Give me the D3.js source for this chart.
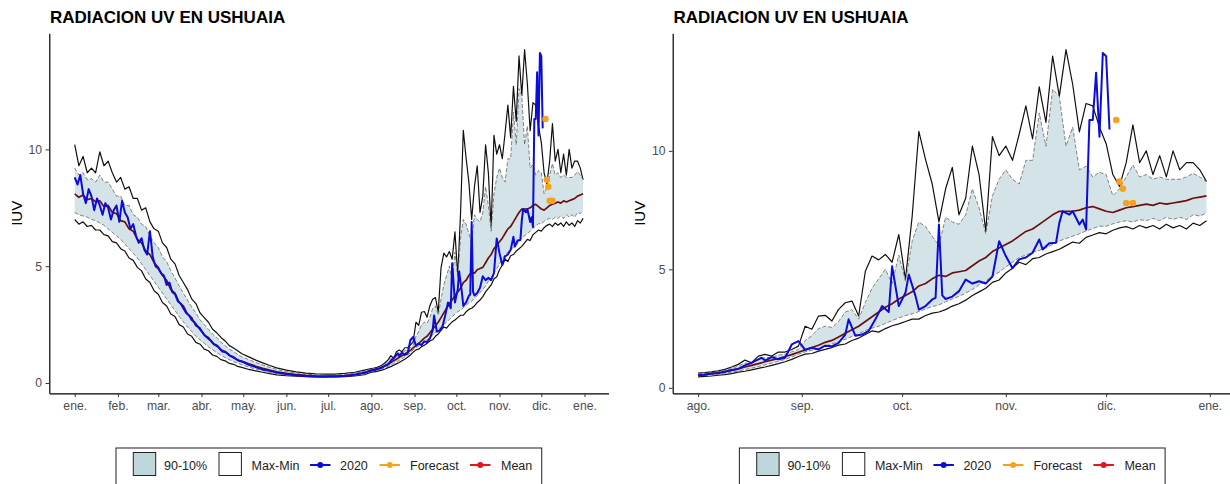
<!DOCTYPE html>
<html>
<head>
<meta charset="utf-8">
<script src="https://cdn.jsdelivr.net/npm/d3@7"></script>
<style>
  body { margin: 0; background: #fff; }
  text { font-family: "Liberation Sans", Arial, sans-serif; }
</style>
</head>
<body>
<div id="my_dataviz"></div>
<script>
// days counted from 1 Jan 2020 (day 213 = 1 Aug)
var bandDays = [0, 3, 6, 9, 12, 15, 18, 21, 24, 27, 30, 33, 36, 39, 42, 45, 48, 51, 54, 57, 60, 63, 66, 69, 72, 75, 78, 81, 84, 87, 90, 93, 96, 99, 102, 105, 108, 111, 114, 117, 120,
    125, 130, 135, 140, 145, 152, 159, 166, 173, 180, 187, 194, 201, 208,
    213, 215, 217, 219, 221, 223, 225, 227, 229, 231, 233, 235, 237, 239, 241, 243, 245, 247, 249, 251,
    253, 255, 257, 259, 261, 263, 265, 267, 269, 271, 273, 275, 277, 279, 281, 283, 285, 287, 289, 291,
    293, 295, 297, 299, 301, 303, 305, 307, 309, 311, 313, 315, 317, 319, 321, 323, 325, 327, 329, 331,
    333, 335, 337, 339, 341, 343, 345, 347, 349, 351, 353, 355, 357, 359, 361, 363, 365];

var maxUV = [10.2, 9.3, 9.7, 9.0, 9.2, 9.0, 9.9, 9.3, 9.5, 9.0, 8.6, 8.8, 8.3, 8.4, 7.9, 7.9, 7.4, 7.5, 6.9, 6.6, 6.5, 6.0, 5.8, 5.3, 5.1, 4.6, 4.3, 4.0, 3.6, 3.4, 3.0, 2.8, 2.6, 2.3, 2.15, 1.95, 1.8, 1.6, 1.5, 1.38, 1.25,
    1.12, 0.98, 0.86, 0.75, 0.65, 0.55, 0.48, 0.42, 0.39, 0.38, 0.38, 0.41, 0.46, 0.55,
    0.62, 0.64, 0.67, 0.72, 0.78, 0.88, 0.99, 1.17, 1.06, 1.34, 1.41, 1.34, 1.51, 1.51, 1.62, 1.76, 2.6, 2.47, 3.03, 3.06,
    2.82, 3.31, 3.59, 3.66, 3.03, 4.92, 5.56, 5.4, 5.63, 5.3, 6.47, 4.57, 7.24, 10.82, 9.63, 8.6, 7.0, 8.4, 9.3, 7.3,
    8.0, 10.2, 9.0, 6.6, 10.6, 9.8, 10.2, 9.6, 10.7, 11.9, 10.5, 12.7, 11.2, 14.0, 12.3, 14.27, 12.8, 10.8, 12.0, 11.9,
    11.0, 10.3, 9.0, 8.5, 9.5, 11.1, 9.5, 10.0, 9.0, 9.8, 8.9, 10.0, 9.2, 9.5, 9.5, 9.2, 8.7];

var p90UV = [9.2, 8.9, 9.0, 8.7, 8.75, 8.6, 8.9, 8.6, 8.6, 8.3, 8.0, 8.0, 7.6, 7.6, 7.2, 7.1, 6.8, 6.7, 6.3, 6.0, 5.8, 5.4, 5.2, 4.8, 4.5, 4.15, 3.85, 3.55, 3.25, 3.0, 2.7, 2.5, 2.3, 2.1, 1.95, 1.75, 1.6, 1.45, 1.35, 1.22, 1.12,
    1.0, 0.88, 0.77, 0.67, 0.58, 0.49, 0.43, 0.38, 0.35, 0.34, 0.34, 0.37, 0.42, 0.5,
    0.6, 0.62, 0.64, 0.68, 0.74, 0.82, 0.92, 1.05, 1.02, 1.2, 1.28, 1.28, 1.38, 1.42, 1.52, 1.62, 2.0, 2.2, 2.5, 2.6,
    2.55, 2.8, 3.2, 3.3, 2.9, 3.6, 4.2, 4.6, 5.0, 4.4, 5.6, 4.5, 6.2, 7.0, 6.8, 6.4, 6.0, 7.2, 7.0, 6.9,
    7.3, 8.4, 7.6, 6.5, 8.1, 8.8, 9.2, 8.8, 8.6, 9.6, 9.6, 11.6, 10.2, 12.6, 12.3, 10.2, 11.0, 9.2, 9.35, 8.9,
    9.1, 9.0, 8.1, 8.4, 8.9, 9.4, 8.9, 9.0, 8.8, 8.9, 8.8, 8.8, 8.8, 8.9, 9.05, 8.9, 8.7];

var meanUV = [8.1, 7.95, 8.05, 7.85, 7.9, 7.75, 7.8, 7.55, 7.6, 7.3, 7.25, 6.95, 6.9, 6.6, 6.5, 6.15, 6.0, 5.65, 5.5, 5.15, 4.95, 4.6, 4.4, 4.0, 3.85, 3.45, 3.3, 2.95, 2.8, 2.45, 2.35, 2.05, 1.95, 1.7, 1.62, 1.42, 1.35, 1.18, 1.12, 0.98, 0.93,
    0.82, 0.72, 0.63, 0.55, 0.48, 0.41, 0.36, 0.33, 0.31, 0.3, 0.3, 0.32, 0.36, 0.44,
    0.55, 0.57, 0.6, 0.64, 0.68, 0.74, 0.8, 0.88, 0.95, 1.02, 1.1, 1.17, 1.24, 1.32, 1.4, 1.5, 1.6, 1.7, 1.8, 1.92,
    2.0, 2.15, 2.3, 2.45, 2.6, 2.8, 3.0, 3.2, 3.4, 3.55, 3.75, 3.9, 4.05, 4.3, 4.4, 4.6, 4.75, 4.7, 4.85, 4.9,
    4.95, 5.15, 5.35, 5.5, 5.75, 5.9, 6.05, 6.2, 6.4, 6.6, 6.7, 6.9, 7.1, 7.3, 7.45, 7.45, 7.45, 7.5, 7.6, 7.65,
    7.55, 7.45, 7.4, 7.5, 7.6, 7.65, 7.7, 7.75, 7.7, 7.8, 7.75, 7.8, 7.85, 7.9, 8.0, 8.05, 8.1];

var p10UV = [7.3, 7.2, 7.15, 7.1, 7.0, 6.95, 6.85, 6.75, 6.6, 6.45, 6.3, 6.15, 5.95, 5.75, 5.55, 5.35, 5.1, 4.85, 4.6, 4.35, 4.1, 3.85, 3.6, 3.35, 3.1, 2.85, 2.62, 2.4, 2.2, 2.0, 1.85, 1.7, 1.55, 1.42, 1.3, 1.19, 1.09, 1.0, 0.92, 0.85, 0.78,
    0.68, 0.6, 0.53, 0.46, 0.41, 0.35, 0.31, 0.29, 0.28, 0.28, 0.28, 0.29, 0.32, 0.38,
    0.5, 0.52, 0.55, 0.58, 0.62, 0.66, 0.72, 0.77, 0.83, 0.9, 0.97, 1.04, 1.12, 1.2, 1.3, 1.42, 1.52, 1.58, 1.68, 1.76,
    1.85, 1.96, 2.05, 2.17, 2.28, 2.42, 2.52, 2.6, 2.72, 2.84, 2.95, 3.05, 3.12, 3.22, 3.33, 3.43, 3.5, 3.63, 3.75, 3.86,
    4.0, 4.15, 4.35, 4.5, 4.72, 4.88, 5.1, 5.3, 5.5, 5.6, 5.72, 5.8, 5.9, 6.05, 6.2, 6.3, 6.4, 6.5, 6.62, 6.72,
    6.82, 6.82, 6.92, 7.0, 7.05, 7.0, 7.1, 7.05, 7.15, 7.05, 7.2, 7.1, 7.2, 7.1, 7.3, 7.25, 7.38];

var minUV = [7.0, 6.8, 6.9, 6.7, 6.75, 6.55, 6.55, 6.35, 6.3, 6.05, 6.0, 5.75, 5.65, 5.35, 5.25, 4.95, 4.8, 4.45, 4.3, 3.95, 3.8, 3.45, 3.3, 2.95, 2.85, 2.5, 2.4, 2.1, 2.0, 1.74, 1.66, 1.45, 1.38, 1.2, 1.14, 1.0, 0.95, 0.84, 0.8, 0.71, 0.67,
    0.58, 0.52, 0.46, 0.4, 0.35, 0.31, 0.29, 0.27, 0.26, 0.26, 0.26, 0.27, 0.3, 0.36,
    0.46, 0.48, 0.5, 0.53, 0.56, 0.6, 0.66, 0.7, 0.76, 0.82, 0.88, 0.95, 1.02, 1.1, 1.2, 1.32, 1.42, 1.45, 1.55, 1.62,
    1.7, 1.8, 1.85, 2.0, 2.1, 2.25, 2.4, 2.35, 2.5, 2.62, 2.7, 2.8, 2.9, 2.9, 3.05, 3.15, 3.2, 3.3, 3.45, 3.55,
    3.7, 3.9, 4.05, 4.2, 4.45, 4.55, 4.85, 5.05, 5.3, 5.2, 5.45, 5.5, 5.65, 5.75, 5.85, 6.0, 6.15, 6.1, 6.35, 6.45,
    6.55, 6.5, 6.65, 6.75, 6.8, 6.7, 6.85, 6.75, 6.85, 6.7, 6.9, 6.75, 6.85, 6.7, 6.95, 6.85, 7.05];

// observed 2020
var obsDays = [0, 2, 4, 6, 8, 10, 12, 14, 16, 18, 20, 22, 24, 26, 28, 30, 32, 34, 36, 38, 40, 42, 44, 46, 48, 50, 52, 54, 56, 58,
    60, 62, 64, 66, 68, 70, 72, 74, 76, 78, 80, 82, 84, 86, 88, 90, 92, 94, 96, 98, 100, 103, 106, 109, 112, 115, 118, 121,
    125, 130, 135, 140, 145, 152, 159, 166, 172, 178, 184, 190, 196, 202, 208,
    213, 215, 217, 219, 221, 223, 225, 227, 229, 231, 232, 233, 235, 237, 239, 241, 243, 245, 247, 249, 251, 253, 255, 257, 258, 260, 262, 264, 266,
    268, 270, 271, 273, 275, 276, 278, 279, 281, 283, 284, 285, 286, 287, 289, 291, 293, 295, 297, 299, 301, 303, 305, 307, 309, 311, 313, 315, 316,
    318, 320, 321, 322, 324, 325, 327, 328, 329, 330, 331, 332, 333, 334, 335, 336];
var obs2020 = [8.8, 8.5, 8.9, 8.1, 7.7, 8.3, 8.0, 7.4, 7.9, 7.6, 7.2, 7.7, 7.5, 7.0, 7.4, 7.6, 6.9, 7.8, 7.3, 7.1, 6.6, 6.8, 6.3, 6.0, 6.2, 5.7, 5.5, 6.5, 5.4, 5.0,
    4.9, 4.7, 4.6, 4.2, 4.3, 3.9, 3.8, 3.5, 3.4, 3.2, 3.0, 2.9, 2.7, 2.6, 2.45, 2.3, 2.15, 2.0, 1.9, 1.8, 1.65, 1.55, 1.35, 1.3, 1.15, 1.05, 0.95, 0.9,
    0.78, 0.68, 0.58, 0.52, 0.45, 0.38, 0.33, 0.3, 0.28, 0.27, 0.28, 0.29, 0.31, 0.36, 0.44,
    0.53, 0.55, 0.6, 0.62, 0.68, 0.75, 0.8, 0.95, 1.06, 1.2, 1.27, 1.15, 1.3, 1.2, 1.27, 1.83, 1.97, 1.6, 1.69, 1.62, 1.78, 1.75, 1.9, 2.25, 2.89, 2.2, 2.25, 2.4, 2.89,
    3.45, 3.2, 5.13, 3.45, 4.01, 4.78, 3.87, 3.3, 3.45, 3.73, 3.8, 6.89, 3.9, 3.75, 3.85, 4.08, 4.57, 4.4, 4.5, 4.4, 4.7, 6.19, 5.56, 5.05, 5.42, 5.5, 5.7, 6.26, 5.84,
    6.1, 6.12, 6.96, 7.45, 7.31, 7.45, 6.89, 7.1, 6.68, 11.3, 11.3, 13.3, 10.6, 14.13, 13.99, 10.9];

var forecastDays = [338, 339, 340, 341, 343];
var forecastUV = [11.3, 8.7, 8.4, 7.8, 7.8];

var monthLabels = ["ene.", "feb.", "mar.", "abr.", "may.", "jun.", "jul.", "ago.", "sep.", "oct.", "nov.", "dic."];
var yTicks = [0, 5, 10];
var titleText = "RADIACION UV EN USHUAIA";
var yTitle = "IUV";
var legendLabels = ["90-10%", "Max-Min", "2020", "Forecast", "Mean"];

var day0 = new Date(2020, 0, 1);
function toDate(d) { return new Date(day0.getTime() + d * 86400000); }

var band = bandDays.map(function(d, i) {
    return { day: d, date: toDate(d), max: maxUV[i], p90: p90UV[i], mean: meanUV[i], p10: p10UV[i], min: minUV[i] };
});
var obs = obsDays.map(function(d, i) { return { day: d, date: toDate(d), value: obs2020[i] }; });
var fc = forecastDays.map(function(d, i) { return { day: d, date: toDate(d), value: forecastUV[i] }; });

var svg = d3.select("#my_dataviz").append("svg")
    .attr("width", 1230)
    .attr("height", 484);

drawPanel(0, 0, "a");
drawPanel(623.4, 213, "b");

function drawPanel(offsetX, firstDay, id) {
    var m = { left: 49.3, right: 608.5, top: 33.3, bottom: 393.3 };
    var lastDay = 365;

    var g = svg.append("g").attr("transform", "translate(" + offsetX + ",0)");

    var bandW = band.filter(function(d) { return d.day >= firstDay; });
    var obsW = obs.filter(function(d) { return d.day >= firstDay; });

    // X (ggplot-like 5% expansion)
    var pad = (lastDay - firstDay) * 0.05;
    var x = d3.scaleTime()
        .domain([toDate(firstDay - pad), toDate(lastDay + pad)])
        .range([m.left, m.right]);

    // Y
    var vals = [];
    bandW.forEach(function(d) { vals.push(d.max, d.min); });
    obsW.forEach(function(d) { vals.push(d.value); });
    fc.forEach(function(d) { vals.push(d.value); });
    var lo = d3.min(vals), hi = d3.max(vals), ypad = (hi - lo) * 0.05;
    var y = d3.scaleLinear()
        .domain([lo - ypad, hi + ypad])
        .range([m.bottom, m.top]);

    g.append("clipPath").attr("id", "clip-" + id)
        .append("rect")
        .attr("x", m.left).attr("y", m.top)
        .attr("width", m.right - m.left).attr("height", m.bottom - m.top);

    var plot = g.append("g").attr("clip-path", "url(#clip-" + id + ")");

    // Max-Min ribbon
    plot.append("path").datum(bandW)
        .attr("fill", "#ffffff")
        .attr("d", d3.area().x(function(d) { return x(d.date); })
            .y0(function(d) { return y(d.min); })
            .y1(function(d) { return y(d.max); }));
    ["max", "min"].forEach(function(k) {
        plot.append("path").datum(bandW)
            .attr("fill", "none")
            .attr("stroke", "#111")
            .attr("stroke-width", 1.2)
            .attr("stroke-linejoin", "round")
            .attr("d", d3.line().x(function(d) { return x(d.date); }).y(function(d) { return y(d[k]); }));
    });

    // 90-10 ribbon
    plot.append("path").datum(bandW)
        .attr("fill", "#d4e3e7")
        .attr("d", d3.area().x(function(d) { return x(d.date); })
            .y0(function(d) { return y(d.p10); })
            .y1(function(d) { return y(d.p90); }));
    ["p90", "p10"].forEach(function(k) {
        plot.append("path").datum(bandW)
            .attr("fill", "none")
            .attr("stroke", "#555")
            .attr("stroke-width", 0.7)
            .attr("stroke-dasharray", "4,2")
            .attr("d", d3.line().x(function(d) { return x(d.date); }).y(function(d) { return y(d[k]); }));
    });

    // Mean
    plot.append("path").datum(bandW)
        .attr("fill", "none")
        .attr("stroke", "#6a1010")
        .attr("stroke-width", 1.7)
        .attr("stroke-linejoin", "round")
        .attr("d", d3.line().x(function(d) { return x(d.date); }).y(function(d) { return y(d.mean); }));

    // 2020
    plot.append("path").datum(obsW)
        .attr("fill", "none")
        .attr("stroke", "#0c0cd8")
        .attr("stroke-width", 2)
        .attr("stroke-linejoin", "round")
        .attr("d", d3.line().x(function(d) { return x(d.date); }).y(function(d) { return y(d.value); }));

    // Forecast
    plot.selectAll("circle.fc")
        .data(fc)
        .enter()
        .append("circle")
        .attr("class", "fc")
        .attr("cx", function(d) { return x(d.date); })
        .attr("cy", function(d) { return y(d.value); })
        .attr("r", 3.3)
        .attr("fill", "#f6a21e");

    // Axes
    var months = d3.timeMonth.range(toDate(firstDay), toDate(lastDay + 2));
    var xAxis = g.append("g")
        .attr("transform", "translate(0," + m.bottom + ")")
        .call(d3.axisBottom(x).tickValues(months)
            .tickFormat(function(d) { return monthLabels[d.getMonth()]; })
            .tickSize(3.7).tickSizeOuter(0).tickPadding(4));
    var yAxis = g.append("g")
        .attr("transform", "translate(" + m.left + ",0)")
        .call(d3.axisLeft(y).tickValues(yTicks)
            .tickSize(3.7).tickSizeOuter(0).tickPadding(3.5));

    [xAxis, yAxis].forEach(function(a) {
        a.attr("font-family", null).attr("font-size", null);
        a.select(".domain").attr("stroke", "#000").attr("stroke-width", 1.2);
        a.selectAll(".tick line").attr("stroke", "#333").attr("stroke-width", 1);
        a.selectAll(".tick text").attr("fill", "#4d4d4d").style("font-size", "12.2px");
    });

    // Titles
    g.append("text")
        .attr("x", 50)
        .attr("y", 22.5)
        .style("font-size", "17px")
        .style("font-weight", "bold")
        .attr("fill", "#000")
        .text(titleText);

    g.append("text")
        .attr("transform", "translate(21.6," + ((m.top + m.bottom) / 2) + ") rotate(-90)")
        .attr("text-anchor", "middle")
        .style("font-size", "15px")
        .attr("fill", "#000")
        .text(yTitle);

    // Legend
    var lx = 116, ly = 448;
    var lg = g.append("g").attr("transform", "translate(" + lx + "," + ly + ")");
    lg.append("rect")
        .attr("x", 0).attr("y", 0)
        .attr("width", 425.7).attr("height", 60)
        .attr("fill", "#fff")
        .attr("stroke", "#333")
        .attr("stroke-width", 1.1);

    var keyX = [17.3, 103, 194, 263.5, 354];
    var textX = [48, 135.5, 224, 294, 385];
    var keyType = ["fill", "empty", "line", "line", "line"];
    var keyColor = ["#bfd6da", "#ffffff", "#0c0cd8", "#f6a21e", "#e8141c"];
    var cy = 17;

    legendLabels.forEach(function(lab, i) {
        if (keyType[i] === "line") {
            lg.append("line")
                .attr("x1", keyX[i]).attr("x2", keyX[i] + 20.5)
                .attr("y1", cy).attr("y2", cy)
                .attr("stroke", keyColor[i]).attr("stroke-width", 2);
            lg.append("circle")
                .attr("cx", keyX[i] + 10.25).attr("cy", cy).attr("r", 3)
                .attr("fill", keyColor[i]);
        } else {
            lg.append("rect")
                .attr("x", keyX[i]).attr("y", cy - 12.5)
                .attr("width", 22.4).attr("height", 23)
                .attr("fill", keyColor[i])
                .attr("stroke", "#222").attr("stroke-width", 1);
        }
        lg.append("text")
            .attr("x", textX[i])
            .attr("y", cy + 4.5)
            .style("font-size", "12.5px")
            .attr("fill", "#222")
            .text(lab);
    });
}
</script>
</body>
</html>
